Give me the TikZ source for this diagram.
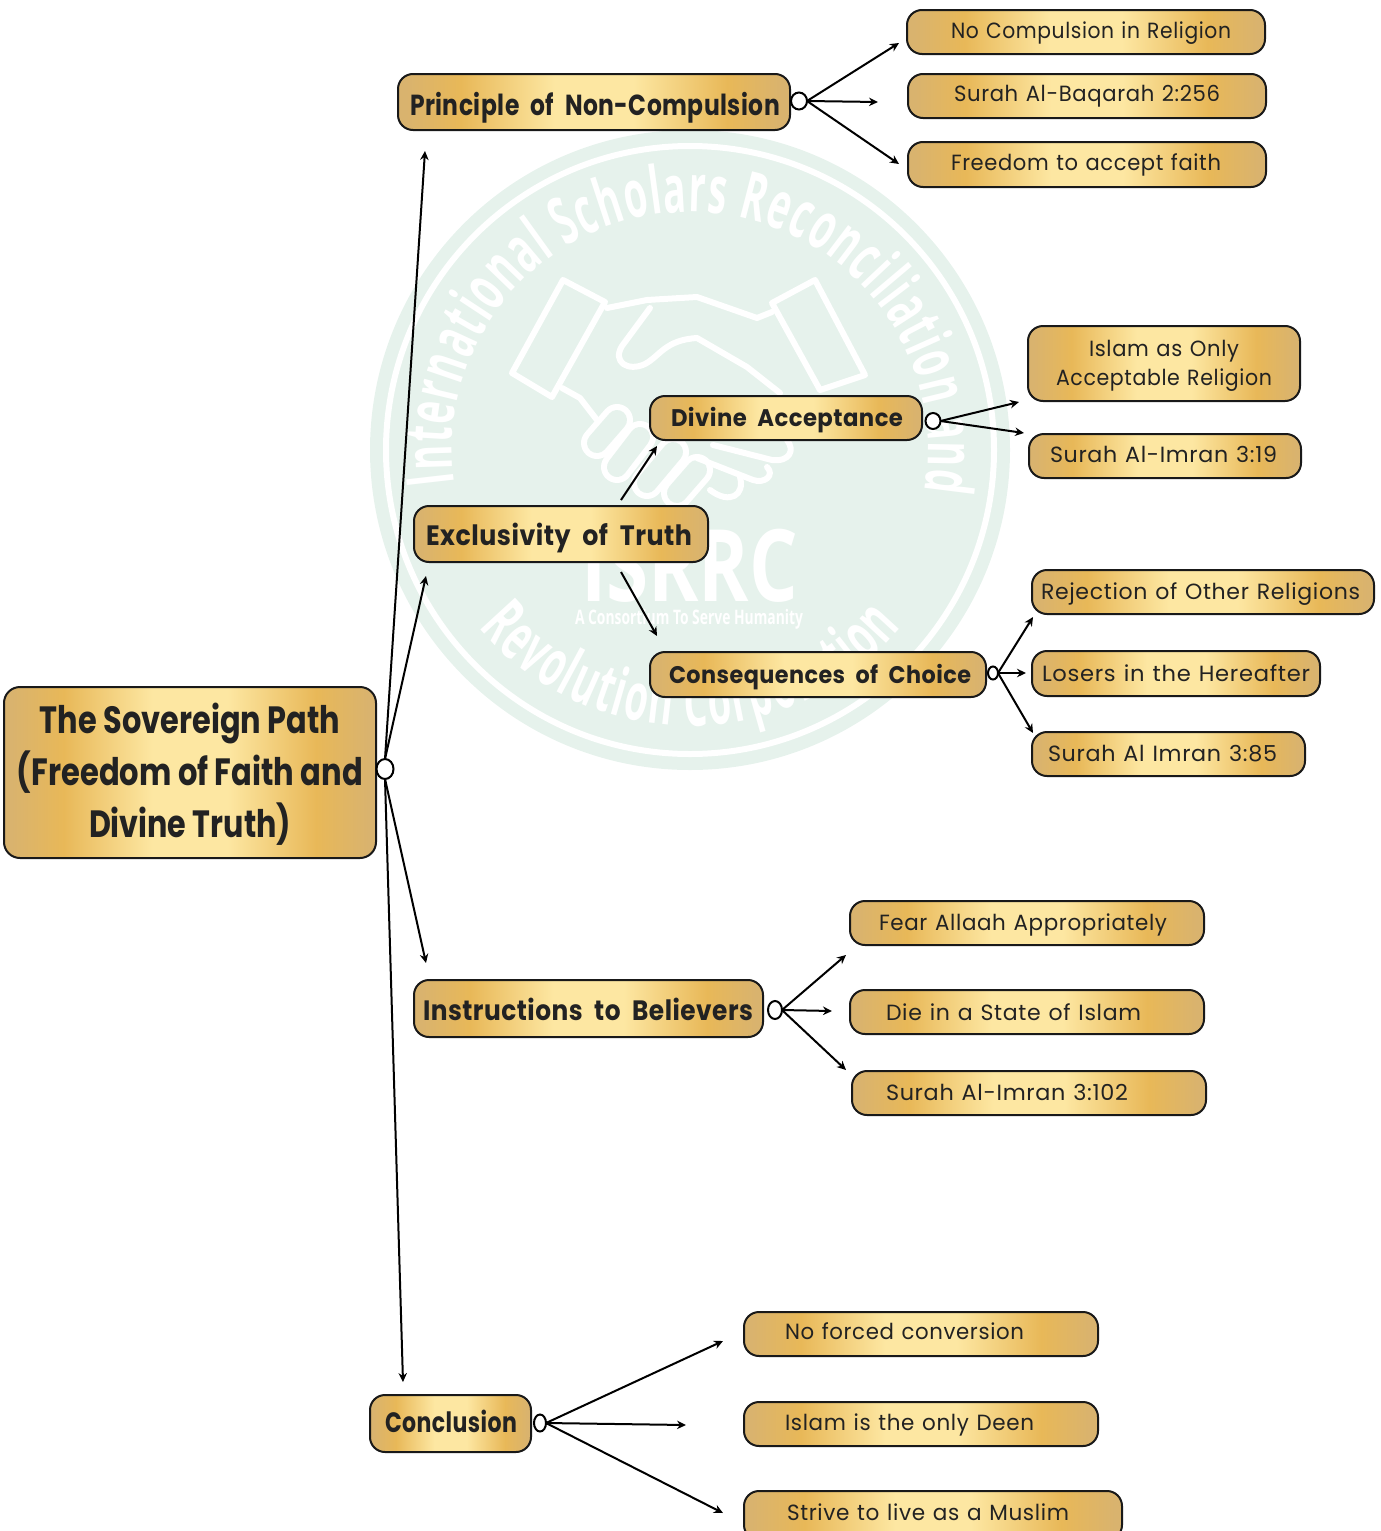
\documentclass[tikz,border=0pt]{standalone}
\usepackage{fontspec}
\usepackage{graphicx}
\usetikzlibrary{shapes.geometric,arrows.meta,decorations.text}
\setmainfont[LetterSpace=3,WordSpace=1.2]{Poppins}
\newfontfamily\hdf[LetterSpace=2,WordSpace=2]{Poppins}
\newfontfamily\rtf{Poppins}
\newcommand\hd{\hdf\bfseries}
\newcommand\rt{\rtf\bfseries}
\newfontfamily\wmfont[FakeStretch=0.57]{Open Sans}
\definecolor{gEdge}{HTML}{D9B36E}
\definecolor{gDeep}{HTML}{E8B858}
\definecolor{gLight}{HTML}{FDE7A2}
\definecolor{wmPale}{HTML}{E6F2EC}
\definecolor{inkc}{HTML}{222222}
\pgfdeclarehorizontalshading{gold}{100bp}{color(0bp)=(gEdge);color(26bp)=(gEdge);color(33bp)=(gDeep);color(45bp)=(gLight);color(55bp)=(gLight);color(67bp)=(gDeep);color(74bp)=(gEdge);color(100bp)=(gEdge)}
\newsavebox\gsb
\newcommand\fittext[3]{{\fontsize{#2}{#2}\selectfont\sbox\gsb{#3}\pgfmathsetmacro\gsc{#1/\the\wd\gsb}\scalebox{\gsc}[1]{\usebox\gsb}}}
\def\gboxi#1|#2,#3,#4,#5|#6,#7,#8,#9|{%
  \pgfmathsetmacro\gcx{(#2+#4)/2}\pgfmathsetmacro\gcy{-(#3+#5)/2}%
  \pgfmathsetmacro\gbw{#4-#2}\pgfmathsetmacro\gbh{#5-#3}%
  \pgfmathsetmacro\goff{#6-#2}\pgfmathsetmacro\gtw{#7-#6}%
  \pgfmathsetmacro\grs{(#3+#5)/2-#8}\pgfmathsetmacro\gth{.72*#9}%
  \node[goldbox,minimum width=\gbw pt,minimum height=\gbh pt,text height=\gth pt,text depth=0pt] (#1) at (\gcx,\gcy)
   {\makebox[\gbw pt][l]{\hspace*{\goff pt}\raisebox{\grs pt}{\fittext{\gtw}{#9}{\gtext}}}};}
\newcommand\gbox[4]{\def\gtext{#4}\gboxi#1|#2|#3|}
\tikzset{
  goldbox/.style={draw=black!90,line width=2pt,rounded corners=15pt,shading=gold,inner sep=0pt,outer sep=0pt,text=inkc},
  hub/.style={ellipse,draw=black,line width=2pt,fill=white,inner sep=0pt,outer sep=0pt},
  conn/.style={draw=black,line width=2pt,-{Stealth[length=9pt,width=8.5pt]}},
  hs/.style={draw=white,line width=6pt,line join=round,line cap=round},
}
\begin{document}
\begin{tikzpicture}[x=1pt,y=1pt]
\useasboundingbox (0,0) rectangle (1381,-1531);
% watermark
\fill[wmPale] (690,-450) circle[radius=320];
\draw[white,line width=6pt] (690,-450) circle[radius=304];
\path[decorate,decoration={text along path,text align={fit to path},
  text={|\wmfont\bfseries\fontsize{66}{66}\selectfont\color{white}|International Scholars Reconciliation and}}]
  (690,-450) ++(188:238) arc[start angle=188,end angle=-10,radius=238];
\path[decorate,decoration={text along path,text align={fit to path},
  text={|\wmfont\bfseries\fontsize{66}{66}\selectfont\color{white}|Revolution Corporation}}]
  (690,-450) ++(220:276) arc[start angle=220,end angle=320,radius=276];
\draw[hs] (563,-280) -- (605,-302) -- (552,-397) -- (512,-373) -- cycle;
\draw[hs] (815,-280) -- (772,-303) -- (820,-390) -- (865,-375) -- cycle;
\draw[hs] (607,-308) -- (647,-300) -- (697,-297) -- (757,-318) -- (772,-312);
\draw[hs] (650,-308) -- (622,-346) .. controls (612,-362) and (628,-372) .. (645,-364) .. controls (660,-356) and (665,-340) .. (697,-338) -- (747,-367) -- (780,-393);
\draw[hs] (562,-388) -- (580,-398) -- (597,-420);
\foreach \ax/\ay/\bx/\by in {597/443/617/420,617/467/640/437,647/483/673/452,677/493/697/470}{
  \draw[white,line width=32pt,line cap=round] (\ax,-\ay) -- (\bx,-\by);
}
\foreach \ax/\ay/\bx/\by in {597/443/617/420,617/467/640/437,647/483/673/452,677/493/697/470}{
  \draw[wmPale,line width=20pt,line cap=round] (\ax,-\ay) -- (\bx,-\by);
}
\draw[hs] (713,-445) -- (772,-460) .. controls (790,-462) and (795,-450) .. (787,-440);
\draw[hs] (767,-467) .. controls (775,-475) and (765,-484) .. (753,-480) -- (697,-458);
\draw[hs] (740,-477) .. controls (745,-495) and (730,-505) .. (710,-490);
\node[text=white,inner sep=0pt] (wmA) at (689.5,-566) {\fittext{217}{100}{\wmfont\bfseries ISRRC}};
\node[text=white,inner sep=0pt] (wmB) at (689,-619) {\fittext{228}{20}{\wmfont\bfseries A Consortium To Serve Humanity}};
% main nodes
\node[goldbox,rounded corners=16pt,minimum width=372pt,minimum height=171pt,align=center,font=\fontsize{38}{52}\selectfont] (root) at (190,-772.5)
  {\rule{0pt}{34pt}\fittext{300}{38}{\rt The Sovereign Path}\\\fittext{346}{38}{\rt (Freedom of Faith and}\\\fittext{202}{38}{\rt Divine Truth)}};
\gbox{princ}{398,74,790,130}{410,780,105,29}{\hd Principle of Non-Compulsion}
\gbox{l1}{907,10,1265,54}{951,1231,31,22}{No Compulsion in Religion}
\gbox{l2}{908,74,1266,118}{954,1220,94,22}{Surah Al-Baqarah 2:256}
\gbox{l3}{908,142,1266,187}{951,1221,163,22}{Freedom to accept faith}
\gbox{excl}{414,506,708,562}{426,692,535,28}{\hd Exclusivity of Truth}
\gbox{div}{650,396,922,440}{671,903,418,24}{\hd Divine Acceptance}
\gbox{cons}{650,652,986,697}{669,971,675,24}{\hd Consequences of Choice}
\node[goldbox,minimum width=272pt,minimum height=75pt,align=center,font=\fontsize{22}{29}\selectfont] (l4) at (1164,-363.5)
  {\rule{0pt}{21pt}\fittext{150}{22}{Islam as Only}\\\fittext{216}{22}{Acceptable Religion}};
\gbox{l5}{1029,434,1301,478}{1050,1277,455,22}{Surah Al-Imran 3:19}
\gbox{l6}{1032,570,1374,614}{1041,1360,592,22}{Rejection of Other Religions}
\gbox{l7}{1032,651,1320,696}{1042,1310,674,22}{Losers in the Hereafter}
\gbox{l8}{1032,732,1305,776}{1048,1277,754,22}{Surah Al Imran 3:85}
\gbox{inst}{414,980,763,1037}{423,753,1010,28}{\hd Instructions to Believers}
\gbox{l9}{850,901,1204,945}{879,1167,923,22}{Fear Allaah Appropriately}
\gbox{l10}{850,990,1204,1034}{886,1141,1013,22}{Die in a State of Islam}
\gbox{l11}{852,1071,1206,1115}{886,1128,1093,22}{Surah Al-Imran 3:102}
\gbox{conc}{370,1395,531,1452}{385,517,1422,28}{\hd Conclusion}
\gbox{l12}{744,1312,1098,1356}{785,1024,1332,22}{No forced conversion}
\gbox{l13}{744,1402,1098,1446}{785,1034,1423,22}{Islam is the only Deen}
\gbox{l14}{744,1491,1122,1540}{787,1069,1513,22}{Strive to live as a Muslim}
% hubs
\node[hub,minimum width=17pt,minimum height=20pt] (h0) at (385,-769) {};
\node[hub,minimum width=16pt,minimum height=17pt] (h1) at (799,-101) {};
\node[hub,minimum width=15pt,minimum height=16pt] (h2) at (933,-421) {};
\node[hub,minimum width=10pt,minimum height=13pt] (h3) at (993,-673) {};
\node[hub,minimum width=14pt,minimum height=18pt] (h4) at (775,-1010) {};
\node[hub,minimum width=12pt,minimum height=17pt] (h5) at (540,-1423) {};
% free ends
\coordinate (t01) at (425,-151);
\coordinate (t02) at (426,-576);
\coordinate (t03) at (426,-963);
\coordinate (t04) at (403,-1382);
\coordinate (t11) at (899,-43);
\coordinate (t12) at (878,-102);
\coordinate (t13) at (899,-164);
\coordinate (s21) at (621,-500);
\coordinate (t21) at (657,-446);
\coordinate (s22) at (621,-572);
\coordinate (t22) at (657,-636);
\coordinate (t31) at (1019,-402);
\coordinate (t32) at (1024,-433);
\coordinate (t41) at (1033,-617);
\coordinate (t42) at (1026,-673);
\coordinate (t43) at (1033,-733);
\coordinate (t51) at (846,-955);
\coordinate (t52) at (832,-1011);
\coordinate (t53) at (846,-1070);
\coordinate (t61) at (723,-1341);
\coordinate (t62) at (686,-1425);
\coordinate (t63) at (723,-1513);
% connectors
\draw[conn] (h0.north) -- (t01);
\draw[conn] (h0.north) -- (t02);
\draw[conn] (h0.south) -- (t03);
\draw[conn] (h0.south) -- (t04);
\draw[conn] (h1.east) -- (t11);
\draw[conn] (h1.east) -- (t12);
\draw[conn] (h1.east) -- (t13);
\draw[conn] (s21) -- (t21);
\draw[conn] (s22) -- (t22);
\draw[conn] (h2.east) -- (t31);
\draw[conn] (h2.east) -- (t32);
\draw[conn] (h3.east) -- (t41);
\draw[conn] (h3.east) -- (t42);
\draw[conn] (h3.east) -- (t43);
\draw[conn] (h4.east) -- (t51);
\draw[conn] (h4.east) -- (t52);
\draw[conn] (h4.east) -- (t53);
\draw[conn] (h5.east) -- (t61);
\draw[conn] (h5.east) -- (t62);
\draw[conn] (h5.east) -- (t63);
\end{tikzpicture}
\end{document}
